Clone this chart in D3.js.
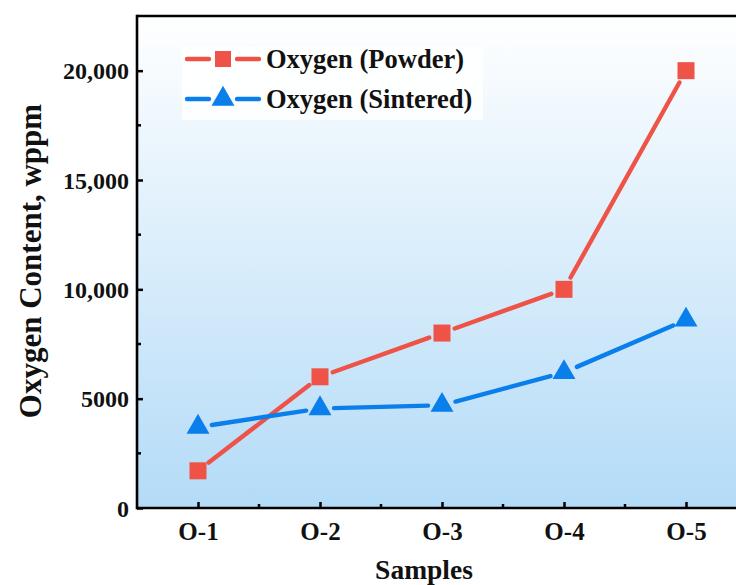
<!DOCTYPE html>
<html>
<head>
<meta charset="utf-8">
<script src="https://cdn.jsdelivr.net/npm/d3@7"></script>
<style>
  html, body { margin: 0; padding: 0; background: #ffffff; }
  svg { display: block; }
  text { font-family: "Liberation Serif", "Times New Roman", serif; font-weight: bold; fill: #111; }
</style>
</head>
<body>
<script>
// ---- data ----
const categories = ["O-1", "O-2", "O-3", "O-4", "O-5"];
const powderValues = [1700, 6000, 8000, 10000, 20000];
const sinteredValues = [3700, 4550, 4700, 6200, 8600];
const seriesNames = ["Oxygen (Powder)", "Oxygen (Sintered)"];
const yTickValues = [0, 5000, 10000, 15000, 20000];
const yTickLabels = ["0", "5000", "10,000", "15,000", "20,000"];
const yMinorTicks = [2500, 7500, 12500, 17500];
const yMax = 22500;
const xLabel = "Samples";
const yLabel = "Oxygen Content, wppm";

// ---- layout ----
const W = 736, H = 585;
const pLeft = 137, pRight = 747, pTop = 16, pBottom = 508;
const red = "#ef5247", blue = "#0a7fec";

const svg = d3.select("body").append("svg").attr("width", W).attr("height", H);

const x = d3.scalePoint().domain(categories).range([pLeft, pRight]).padding(0.5);
const y = d3.scaleLinear().domain([0, yMax]).range([pBottom, pTop]);

// background gradient
const defs = svg.append("defs");
const grad = defs.append("linearGradient").attr("id", "bg").attr("x1", 0).attr("y1", 0).attr("x2", 0).attr("y2", 1);
grad.append("stop").attr("offset", "0%").attr("stop-color", "#ffffff");
grad.append("stop").attr("offset", "100%").attr("stop-color", "#b3dbf7");
svg.append("rect").attr("x", pLeft).attr("y", pTop).attr("width", pRight - pLeft).attr("height", pBottom - pTop).attr("fill", "url(#bg)");

// axes
const yAxis = d3.axisLeft(y).tickValues(yTickValues).tickSize(-6).tickPadding(8)
  .tickFormat((d, i) => yTickLabels[i]);
const gy = svg.append("g").attr("transform", `translate(${pLeft},0)`).call(yAxis);
gy.select(".domain").remove();
gy.selectAll(".tick line").attr("stroke", "#000").attr("stroke-width", 2.5);
gy.selectAll(".tick text").style("font-size", "24px").attr("fill", "#111").attr("dy", "0.34em");
svg.append("g").selectAll("line").data(yMinorTicks).join("line")
  .attr("x1", pLeft).attr("x2", pLeft + 4).attr("y1", d => y(d)).attr("y2", d => y(d))
  .attr("stroke", "#000").attr("stroke-width", 2.5);

const xAxis = d3.axisBottom(x).tickSize(-6).tickPadding(14);
const gx = svg.append("g").attr("transform", `translate(0,${pBottom})`).call(xAxis);
gx.select(".domain").remove();
gx.selectAll(".tick line").attr("stroke", "#000").attr("stroke-width", 2.5);
gx.selectAll(".tick text").style("font-size", "25px").attr("fill", "#111").attr("dy", "0.71em");
const step = x.step();
svg.append("g").selectAll("line").data(categories.slice(0, -1)).join("line")
  .attr("x1", d => x(d) + step / 2).attr("x2", d => x(d) + step / 2)
  .attr("y1", pBottom).attr("y2", pBottom - 4)
  .attr("stroke", "#000").attr("stroke-width", 2.5);

// frame lines
svg.append("line").attr("x1", pLeft).attr("x2", pLeft).attr("y1", pTop - 1.2).attr("y2", pBottom + 1.2).attr("stroke", "#000").attr("stroke-width", 2.6);
svg.append("line").attr("x1", pLeft).attr("x2", W).attr("y1", pBottom).attr("y2", pBottom).attr("stroke", "#000").attr("stroke-width", 2.6);
svg.append("line").attr("x1", pLeft).attr("x2", W).attr("y1", pTop).attr("y2", pTop).attr("stroke", "#000").attr("stroke-width", 2.6);

// series
function drawSeries(values, color, symType, size, gap) {
  const pts = values.map((v, i) => [x(categories[i]), y(v)]);
  const g = svg.append("g");
  for (let i = 0; i < pts.length - 1; i++) {
    const [x1, y1] = pts[i], [x2, y2] = pts[i + 1];
    const dx = x2 - x1, dy = y2 - y1, L = Math.hypot(dx, dy);
    const ux = dx / L, uy = dy / L;
    g.append("line")
      .attr("x1", x1 + ux * gap).attr("y1", y1 + uy * gap)
      .attr("x2", x2 - ux * gap).attr("y2", y2 - uy * gap)
      .attr("stroke", color).attr("stroke-width", 4.4).attr("stroke-linecap", "round");
  }
  g.selectAll("path").data(pts).join("path")
    .attr("d", d3.symbol().type(symType).size(size))
    .attr("transform", d => `translate(${d[0]},${d[1]})`)
    .attr("fill", color);
}
drawSeries(powderValues, red, d3.symbolSquare, 289, 13.5);
drawSeries(sinteredValues, blue, d3.symbolTriangle, 229, 14);

// legend
const lg = svg.append("g");
lg.append("rect").attr("x", 182).attr("y", 47).attr("width", 301).attr("height", 73).attr("fill", "#ffffff").attr("fill-opacity", 0.85);
const legendItems = [
  { name: seriesNames[0], color: red, type: d3.symbolSquare, size: 256, cy: 59 },
  { name: seriesNames[1], color: blue, type: d3.symbolTriangle, size: 229, cy: 99 }
];
legendItems.forEach(it => {
  lg.append("line").attr("x1", 187).attr("x2", 209).attr("y1", it.cy).attr("y2", it.cy)
    .attr("stroke", it.color).attr("stroke-width", 4.4).attr("stroke-linecap", "round");
  lg.append("line").attr("x1", 237).attr("x2", 259).attr("y1", it.cy).attr("y2", it.cy)
    .attr("stroke", it.color).attr("stroke-width", 4.4).attr("stroke-linecap", "round");
  lg.append("path").attr("d", d3.symbol().type(it.type).size(it.size)())
    .attr("transform", `translate(223,${it.cy})`).attr("fill", it.color);
  lg.append("text").attr("x", 266).attr("y", it.cy + 9).style("font-size", "26.5px").text(it.name);
});

// axis titles
svg.append("text").attr("x", 424).attr("y", 579).attr("text-anchor", "middle").style("font-size", "27.5px").text(xLabel);
svg.append("text").attr("transform", "translate(41,261) rotate(-90)").attr("text-anchor", "middle").style("font-size", "31px").text(yLabel);
</script>
</body>
</html>
